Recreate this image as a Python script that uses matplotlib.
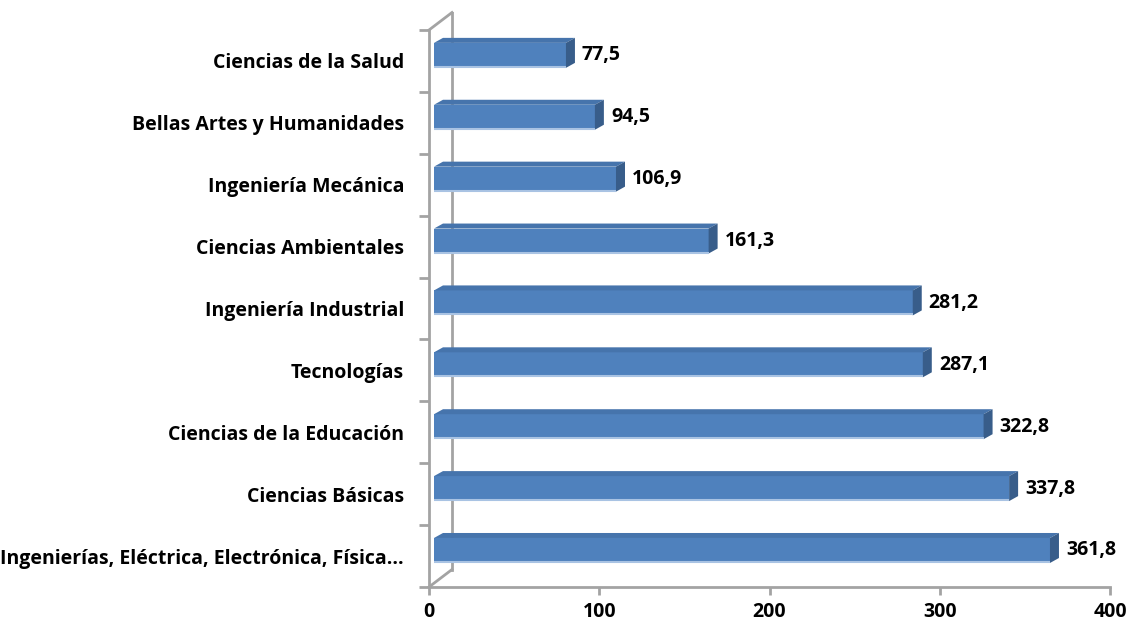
import numpy as np
import matplotlib.pyplot as plt
from matplotlib.patches import Polygon

plt.rcParams['font.family'] = ['Open Sans', 'DejaVu Sans']
plt.rcParams['font.weight'] = 'bold'

categories = [
    "Ingenierías, Eléctrica, Electrónica, Física...",
    "Ciencias Básicas",
    "Ciencias de la Educación",
    "Tecnologías",
    "Ingeniería Industrial",
    "Ciencias Ambientales",
    "Ingeniería Mecánica",
    "Bellas Artes y Humanidades",
    "Ciencias de la Salud",
]
values = [361.8, 337.8, 322.8, 287.1, 281.2, 161.3, 106.9, 94.5, 77.5]
value_labels = ["361,8", "337,8", "322,8", "287,1", "281,2", "161,3", "106,9", "94,5", "77,5"]
xticks = [0, 100, 200, 300, 400]

W, H, DPI = 1133, 636, 100
FS = 14

fig = plt.figure(figsize=(W / DPI, H / DPI), dpi=DPI)
left, right, bottom, top = 429 / W, 1110 / W, 1 - 587 / H, 1 - 30 / H
ax = fig.add_axes([left, bottom, right - left, top - bottom])
ax.set_xlim(0, 400)
ax.set_ylim(-0.5, 8.5)

# pixel -> data unit conversion
ax_w = (right - left) * W
ax_h = (top - bottom) * H
ux = 400 / ax_w
uy = 9 / ax_h

GRAY = "#a3a3a3"
FRONT = "#4f81bd"
TOP = "#4674ac"
SIDE = "#385d8a"
EDGE = "#a9c3e3"

# 3-D wall: back vertical edge and the two diagonals
wx, wy = 23 * ux, 17.5 * uy
ax.plot([wx, wx], [-0.5 + wy, 8.5 + wy], color=GRAY, lw=2, clip_on=False, zorder=1)
ax.plot([0, wx], [-0.5, -0.5 + wy], color=GRAY, lw=2, clip_on=False, zorder=1)
ax.plot([0, wx], [8.5, 8.5 + wy], color=GRAY, lw=2, clip_on=False, zorder=1)

# bars: front face + top face + right face
x0 = 5 * ux
h = 25 * uy
dx, dy = 9 * ux, 5 * uy
yc = np.arange(len(values)) + 0.09
for y, v, lab in zip(yc, values, value_labels):
    yb, yt = y - h / 2, y + h / 2
    xe = x0 + v
    ax.add_patch(Polygon([(x0, yb), (xe, yb), (xe, yt), (x0, yt)],
                         closed=True, fc=FRONT, ec="none", zorder=3))
    ax.plot([x0, xe], [yb + 1 * uy, yb + 1 * uy], color=EDGE, lw=1.5, zorder=4,
            solid_capstyle="butt")
    ax.add_patch(Polygon([(x0, yt), (xe, yt), (xe + dx, yt + dy), (x0 + dx, yt + dy)],
                         closed=True, fc=TOP, ec="none", zorder=3))
    ax.add_patch(Polygon([(xe, yb), (xe + dx, yb + dy), (xe + dx, yt + dy), (xe, yt)],
                         closed=True, fc=SIDE, ec="none", zorder=3))
    ax.text(xe + dx + 7 * ux, y, lab, ha="left", va="center", fontsize=FS,
            fontweight="bold", color="black", zorder=5)

for s in ["top", "right"]:
    ax.spines[s].set_visible(False)
for s in ["left", "bottom"]:
    ax.spines[s].set_color(GRAY)
    ax.spines[s].set_linewidth(2)

ax.set_xticks(xticks)
ax.set_xticklabels([str(t) for t in xticks], fontsize=FS, fontweight="bold")
ax.tick_params(axis="x", length=6, width=2, color=GRAY, pad=5)

ax.set_yticks(np.arange(len(categories)))
ax.set_yticklabels(categories, fontsize=FS, fontweight="bold")
ax.set_yticks(np.arange(-0.5, 9, 1), minor=True)
ax.tick_params(axis="y", which="major", length=0, pad=18)
ax.tick_params(axis="y", which="minor", length=7, width=2, color=GRAY)

fig.savefig("out.png", dpi=DPI)
